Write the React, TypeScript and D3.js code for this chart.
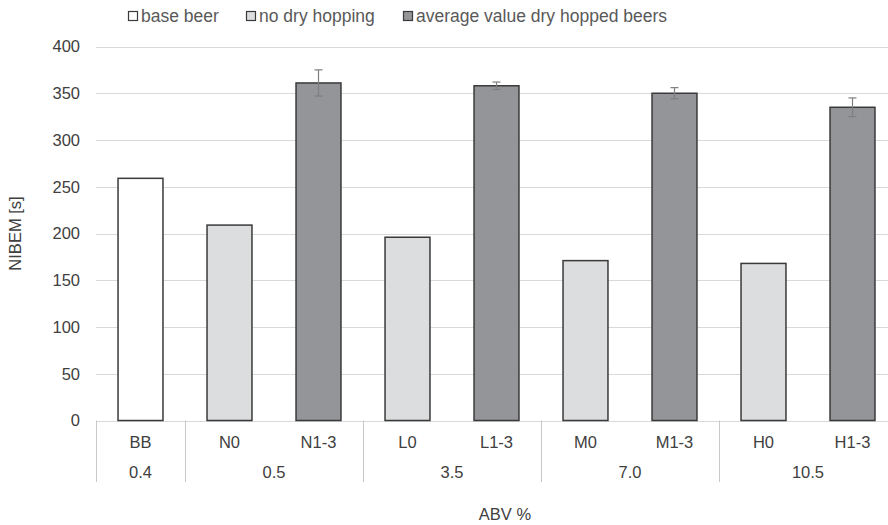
import {useEffect, useRef} from 'react';
import * as d3 from 'd3';

const categories = ['BB', 'N0', 'N1-3', 'L0', 'L1-3', 'M0', 'M1-3', 'H0', 'H1-3'];
const values = [259, 209, 361, 196, 358, 171, 350, 168, 335];
const errors = [0, 0, 14, 0, 4, 0, 6, 0, 10];
const kinds = ['base', 'none', 'dry', 'none', 'dry', 'none', 'dry', 'none', 'dry'];
const groups = ['0.4', '0.5', '3.5', '7.0', '10.5'];
const groupSizes = [1, 2, 2, 2, 2];
const yTicks = [0, 50, 100, 150, 200, 250, 300, 350, 400];
const legendItems = [
  {kind: 'base', label: 'base beer'},
  {kind: 'none', label: 'no dry hopping'},
  {kind: 'dry', label: 'average value dry hopped beers'},
];

const fills: Record<string, string> = {base: '#ffffff', none: '#dcdddf', dry: '#939598'};

export default function App() {
  const svgRef = useRef<SVGSVGElement>(null);

  useEffect(() => {
    document.body.style.margin = '0';
    if (!svgRef.current) return;
    const width = 888;
    const height = 525;
    const svg = d3.select(svgRef.current);
    svg.selectAll('*').remove();

    const font = "'Liberation Sans', Arial, sans-serif";
    const fs = 16.5;
    const left = 96;
    const right = 897;
    const top = 46.5;
    const bottom = 420.5;

    const x = d3.scaleBand<string>().domain(categories).range([left, right]).paddingInner(0).paddingOuter(0);
    const y = d3.scaleLinear().domain([0, 400]).range([bottom, top]);
    const bw = x.bandwidth() * 0.505;

    // gridlines
    svg
      .append('g')
      .selectAll('line')
      .data(yTicks)
      .join('line')
      .attr('x1', left)
      .attr('x2', width)
      .attr('y1', (d) => Math.round(y(d)) + 0.5)
      .attr('y2', (d) => Math.round(y(d)) + 0.5)
      .attr('stroke', '#d9d9d9')
      .attr('stroke-width', 1);

    svg
      .append('g')
      .selectAll('text')
      .data(yTicks)
      .join('text')
      .attr('x', 80)
      .attr('y', (d) => y(d))
      .attr('dy', '0.35em')
      .attr('text-anchor', 'end')
      .attr('font-family', font)
      .attr('font-size', fs)
      .attr('fill', '#404040')
      .text((d) => d);

    // bars
    svg
      .append('g')
      .selectAll('rect')
      .data(categories)
      .join('rect')
      .attr('x', (d) => x(d)! + (x.bandwidth() - bw) / 2)
      .attr('width', bw)
      .attr('y', (d, i) => y(values[i]))
      .attr('height', (d, i) => y(0) - y(values[i]))
      .attr('fill', (d, i) => fills[kinds[i]])
      .attr('stroke', '#3a3a3a')
      .attr('stroke-width', 1.5);

    // error bars
    const eg = svg.append('g').attr('stroke', '#7f7f7f').attr('stroke-width', 1.2);
    categories.forEach((c, i) => {
      if (!errors[i]) return;
      const cx = x(c)! + x.bandwidth() / 2;
      const y1 = y(values[i] + errors[i]);
      const y2 = y(values[i] - errors[i]);
      eg.append('line').attr('x1', cx).attr('x2', cx).attr('y1', y1).attr('y2', y2);
      eg.append('line').attr('x1', cx - 4).attr('x2', cx + 4).attr('y1', y1).attr('y2', y1);
      eg.append('line').attr('x1', cx - 4).attr('x2', cx + 4).attr('y1', y2).attr('y2', y2);
    });

    // category labels
    svg
      .append('g')
      .selectAll('text')
      .data(categories)
      .join('text')
      .attr('x', (d) => x(d)! + x.bandwidth() / 2)
      .attr('y', 448)
      .attr('text-anchor', 'middle')
      .attr('font-family', font)
      .attr('font-size', fs)
      .attr('fill', '#404040')
      .text((d) => d);

    // group labels and separators
    const sep = svg.append('g').attr('stroke', '#c8c8c8').attr('stroke-width', 1);
    let idx = 0;
    const bounds: number[] = [x(categories[0])!];
    groups.forEach((g, gi) => {
      const start = x(categories[idx])!;
      idx += groupSizes[gi];
      const end = idx < categories.length ? x(categories[idx])! : right;
      bounds.push(end);
      svg
        .append('text')
        .attr('x', (start + end) / 2)
        .attr('y', 478)
        .attr('text-anchor', 'middle')
        .attr('font-family', font)
        .attr('font-size', fs)
        .attr('fill', '#404040')
        .text(g);
    });
    bounds.forEach((b) => {
      const bx = Math.round(b) + 0.5;
      sep.append('line').attr('x1', bx).attr('x2', bx).attr('y1', bottom).attr('y2', 482);
    });

    // axis titles
    svg
      .append('text')
      .attr('x', 505)
      .attr('y', 520)
      .attr('text-anchor', 'middle')
      .attr('font-family', font)
      .attr('font-size', fs)
      .attr('fill', '#404040')
      .text('ABV %');

    svg
      .append('text')
      .attr('transform', `translate(21,${(top + bottom) / 2}) rotate(-90)`)
      .attr('text-anchor', 'middle')
      .attr('font-family', font)
      .attr('font-size', fs)
      .attr('fill', '#404040')
      .text('NIBEM [s]');

    // legend
    const legendX = [128, 246, 403];
    legendItems.forEach((it, i) => {
      const lg = svg.append('g').attr('transform', `translate(${legendX[i]},11)`);
      lg.append('rect')
        .attr('x', 0.5)
        .attr('y', 0.5)
        .attr('width', 9)
        .attr('height', 9)
        .attr('fill', fills[it.kind])
        .attr('stroke', '#3a3a3a')
        .attr('stroke-width', 1.2);
      lg.append('text')
        .attr('x', 13)
        .attr('y', 11)
        .attr('font-family', font)
        .attr('font-size', 17.5)
        .attr('fill', '#595959')
        .text(it.label);
    });

    svg.attr('width', width).attr('height', height);
  }, []);

  return <svg ref={svgRef} width={888} height={525} style={{display: 'block', background: '#fff'}} />;
}
